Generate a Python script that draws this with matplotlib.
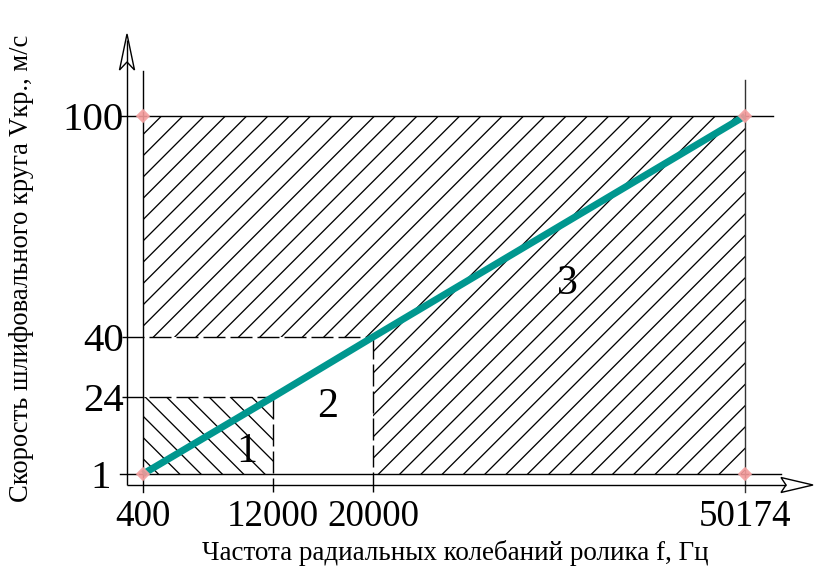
import numpy as np
import matplotlib
matplotlib.use("Agg")
import matplotlib.pyplot as plt
from matplotlib.scale import FuncScale
from matplotlib.patches import Polygon
from matplotlib.collections import LineCollection
from matplotlib.transforms import IdentityTransform, ScaledTranslation

# ---- data -------------------------------------------------------------
freq_ticks = [400, 12000, 20000, 50174]          # Hz
speed_ticks = [1, 24, 40, 100]                   # m/s
line_freq = [400, 12000, 20000, 50174]
line_speed = [1, 24, 40, 100]
corner_freq = [400, 400, 50174, 50174]
corner_speed = [1, 100, 100, 1]
zone_names = ["1", "2", "3"]
zone_freq = [9700, 16400, 35800]
zone_speed = [7.5, 21.0, 54.5]

# ---- layout ------------------------------------------------------------
DPI = 128
W, H = 814, 571
AX_L, AX_R, AX_T, AX_B = 143, 745, 116, 474      # plot frame in pixels
x_steps = [0, 130, 230, 602]                     # tick spacing along x (px)
y_steps = [0, 77, 137, 358]                      # tick spacing along y (px)


def pt(px):
    return px * 72 / DPI


def piecewise(src, dst):
    src = np.asarray(src, float)
    dst = np.asarray(dst, float)

    def f(v):
        v = np.asarray(v, float)
        out = np.interp(v, src, dst)
        lo_s = (dst[1] - dst[0]) / (src[1] - src[0])
        hi_s = (dst[-1] - dst[-2]) / (src[-1] - src[-2])
        out = np.where(v < src[0], dst[0] + (v - src[0]) * lo_s, out)
        out = np.where(v > src[-1], dst[-1] + (v - src[-1]) * hi_s, out)
        return out
    return f


plt.rcParams["font.family"] = ["Liberation Serif", "DejaVu Serif"]

fig = plt.figure(figsize=(W / DPI, H / DPI), dpi=DPI)
fig.patch.set_facecolor("white")
ax = fig.add_axes([AX_L / W, 1 - AX_B / H, (AX_R - AX_L) / W, (AX_B - AX_T) / H])
ax.set_xscale(FuncScale(ax.xaxis, (piecewise(freq_ticks, x_steps), piecewise(x_steps, freq_ticks))))
ax.set_yscale(FuncScale(ax.yaxis, (piecewise(speed_ticks, y_steps), piecewise(y_steps, speed_ticks))))
ax.set_xlim(freq_ticks[0], freq_ticks[-1])
ax.set_ylim(speed_ticks[0], speed_ticks[-1])
for s in ax.spines.values():
    s.set_visible(False)
ax.set_facecolor("none")


def fx(px):   # pixel column -> axes fraction
    return (px - AX_L) / (AX_R - AX_L)


def fy(py):   # pixel row -> axes fraction
    return (AX_B - py) / (AX_B - AX_T)


LW = pt(1.4)
ytr = ax.get_yaxis_transform()
xtr = ax.get_xaxis_transform()


def hatch(patch, slope, offset, step=21.3):
    """Diagonal hatch lines (output-pixel space) clipped to a patch."""
    segs = []
    for c in np.arange(offset - 80 * step, offset + 80 * step, step):
        segs.append([(0, c), (W, slope * W + c)])
    lc = LineCollection(segs, colors="black", linewidths=pt(1.3),
                        transform=IdentityTransform(), zorder=1.5)
    ax.add_collection(lc, autolim=False)
    lc.set_clip_path(patch)


# hatched zones
zone3 = [(freq_ticks[0], speed_ticks[2]), (freq_ticks[0], speed_ticks[3]),
         (freq_ticks[3], speed_ticks[3]), (freq_ticks[3], speed_ticks[0]),
         (freq_ticks[2], speed_ticks[0]), (freq_ticks[2], speed_ticks[2])]
zone1 = [(freq_ticks[0], speed_ticks[0]), (freq_ticks[0], speed_ticks[1]),
         (freq_ticks[1], speed_ticks[1]), (freq_ticks[1], speed_ticks[0])]
p3 = ax.add_patch(Polygon(zone3, closed=True, facecolor="white", linewidth=0, zorder=1))
p1 = ax.add_patch(Polygon(zone1, closed=True, facecolor="white", linewidth=0, zorder=1))
hatch(p3, 1.0, 293.5)
hatch(p1, -1.0, 255.3)

# solid frame lines (extended past the frame like crosshairs)
ax.plot([fx(121), fx(773)], [speed_ticks[3]] * 2, transform=ytr, color="black",
        lw=LW, clip_on=False, zorder=3)
ax.plot([fx(120), fx(781)], [speed_ticks[0]] * 2, transform=ytr, color="black",
        lw=LW, clip_on=False, zorder=3)
ax.plot([freq_ticks[0]] * 2, [fy(492), fy(71)], transform=xtr, color="black",
        lw=LW, clip_on=False, zorder=3)
ax.plot([freq_ticks[3]] * 2, [fy(492), fy(80)], transform=xtr, color="#333333",
        lw=LW, clip_on=False, zorder=3)

# dashed zone boundaries
dash = (0, (22 / 1.4, 5 / 1.4))
ax.plot([fx(122), fx(AX_L + x_steps[2])], [speed_ticks[2]] * 2, transform=ytr,
        color="black", lw=LW, ls=dash, clip_on=False, zorder=3)
ax.plot([fx(122), fx(AX_L + x_steps[1])], [speed_ticks[1]] * 2, transform=ytr,
        color="black", lw=LW, ls=dash, clip_on=False, zorder=3)
ax.plot([freq_ticks[1]] * 2, [fy(AX_B - y_steps[1]), fy(492)], transform=xtr,
        color="black", lw=LW, ls=dash, clip_on=False, zorder=3)
ax.plot([freq_ticks[2]] * 2, [fy(AX_B - y_steps[2]), fy(492)], transform=xtr,
        color="black", lw=LW, ls=dash, clip_on=False, zorder=3)

# operating line
ax.plot(line_freq, line_speed, color="#00978f", lw=pt(7),
        solid_capstyle="butt", zorder=4, clip_on=False)

# corner markers
ax.plot(corner_freq, corner_speed, ls="none", marker="D", ms=pt(8.5),
        mfc="#f49a9a", mec="#f4a4a4", alpha=0.9, zorder=5, clip_on=False)

# zone numbers
NUM_FS = pt(42)
for name, zx, zy in zip(zone_names, zone_freq, zone_speed):
    ax.text(zx, zy, name, fontsize=NUM_FS, ha="center", va="center", zorder=6)

# ticks
ax.set_xticks(freq_ticks)
ax.set_xticklabels([str(v) for v in freq_ticks])
ax.set_yticks(speed_ticks)
ax.set_yticklabels([str(v) for v in speed_ticks])
ax.tick_params(axis="both", length=0)
ax.tick_params(axis="x", pad=pt(25), labelsize=pt(37))
ax.tick_params(axis="y", pad=pt(19), labelsize=pt(41))
first = ax.get_yticklabels()[0]
first.set_transform(first.get_transform() + ScaledTranslation(-13 / DPI, 0, fig.dpi_scale_trans))

# main axes with open arrowheads (overlay in pixel coordinates)
deco = fig.add_axes([0, 0, 1, 1], zorder=10)
deco.set_xlim(0, W)
deco.set_ylim(H, 0)
deco.axis("off")
deco.patch.set_alpha(0)
x0, y0 = 127, 485
deco.plot([x0, x0], [y0, 40], color="black", lw=LW, solid_capstyle="butt")
deco.plot([x0, 786], [y0, y0], color="black", lw=LW, solid_capstyle="butt")
deco.add_patch(Polygon([(x0, 34), (x0 + 7.5, 70), (x0, 62), (x0 - 7.5, 70)],
                       closed=True, facecolor="white", edgecolor="black", lw=LW))
deco.add_patch(Polygon([(813, y0), (781, y0 + 7.5), (786, y0), (781, y0 - 7.5)],
                       closed=True, facecolor="white", edgecolor="black", lw=LW))

# axis titles
fig.text(455 / W, 1 - 553 / H, "Частота радиальных колебаний ролика f, Гц",
         fontsize=15.2, ha="center", va="center")
fig.text(22 / W, 1 - 268 / H, "Скорость шлифовального круга Vкр., м/с",
         fontsize=15.0, ha="center", va="center", rotation=90)

fig.savefig("out.png", dpi=DPI)
